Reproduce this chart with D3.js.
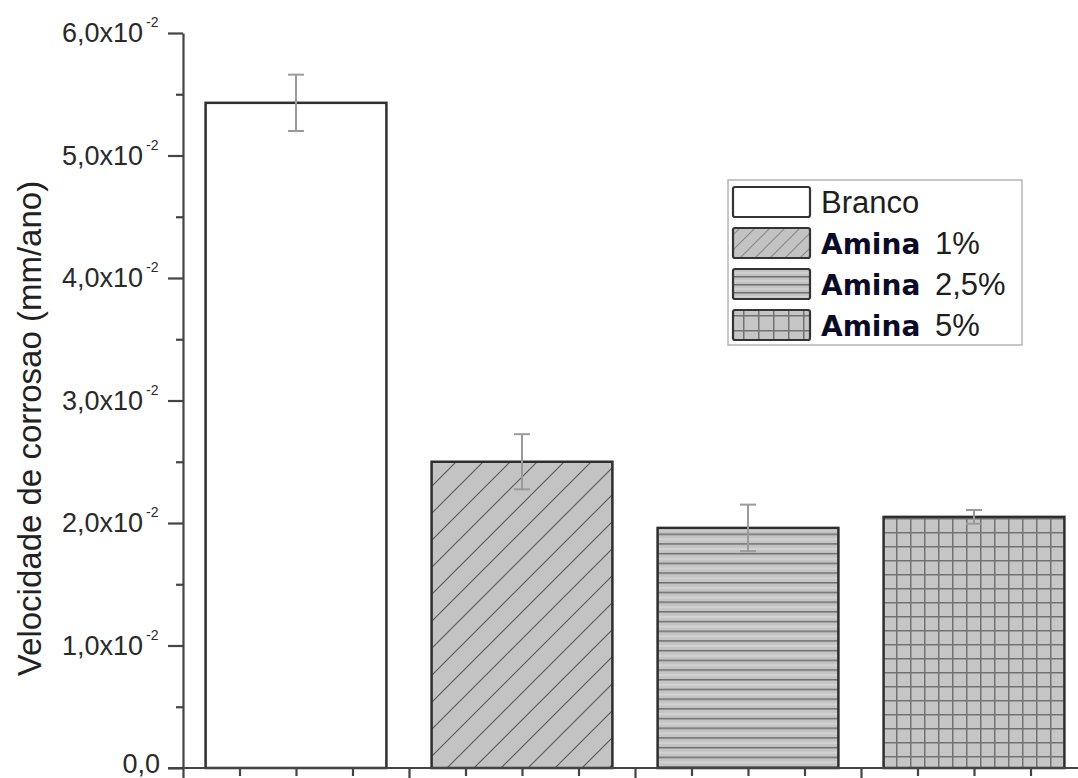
<!DOCTYPE html>
<html>
<head>
<meta charset="utf-8">
<script src="https://cdn.jsdelivr.net/npm/d3@7/dist/d3.min.js"></script>
<style>
  html, body { margin: 0; padding: 0; background: #fff; }
  svg { display: block; }
  text { font-family: "Liberation Sans", Arial, sans-serif; }
</style>
</head>
<body>
<svg id="chart" width="1078" height="778"></svg>
<script>
// Corrosion rate per treatment (mm/ano), with standard deviation
const categories = ["Branco", "Amina 1%", "Amina 2,5%", "Amina 5%"];
const values     = [0.0543, 0.0250, 0.0196, 0.0205];
const errors     = [0.0023, 0.00225, 0.0019, 0.00056];
const fills      = ["white", "diag", "horiz", "grid"];
const legendMain = ["Branco", "Amina", "Amina", "Amina"];
const legendRest = ["", "1%", "2,5%", "5%"];
const yTicks     = [0, 0.01, 0.02, 0.03, 0.04, 0.05, 0.06];
const yTickLabels = ["0,0", "1,0x10", "2,0x10", "3,0x10", "4,0x10", "5,0x10", "6,0x10"];
const yTitle = "Velocidade de corrosao (mm/ano)";

const svg = d3.select("#chart");

const x = d3.scaleLinear().domain([0.5, 4.5]).range([183, 1087]);
const y = d3.scaleLinear().domain([0, 0.06]).range([768, 33]);

// ---- hatch patterns ----
const defs = svg.append("defs");
function diag(id, s, col) {
  const p = defs.append("pattern").attr("id", id).attr("patternUnits", "userSpaceOnUse")
    .attr("width", s).attr("height", s);
  p.append("rect").attr("width", s).attr("height", s).attr("fill", "#c3c3c3");
  p.append("path").attr("d", `M0,${s} L${s},0 M${-s/2},${s/2} L${s/2},${-s/2} M${s/2},${s*1.5} L${s*1.5},${s/2}`)
    .attr("stroke", col).attr("stroke-width", 1.2);
}
function horiz(id, s) {
  const p = defs.append("pattern").attr("id", id).attr("patternUnits", "userSpaceOnUse")
    .attr("width", 10).attr("height", s);
  p.append("rect").attr("width", 10).attr("height", s).attr("fill", "#c4c4c4");
  p.append("rect").attr("y", s * 0.5).attr("width", 10).attr("height", s * 0.2).attr("fill", "#d2d2d2");
  p.append("line").attr("x1", 0).attr("x2", 10).attr("y1", 0.75).attr("y2", 0.75)
    .attr("stroke", "#6e6e6e").attr("stroke-width", 1.5);
}
function grid(id, s) {
  const p = defs.append("pattern").attr("id", id).attr("patternUnits", "userSpaceOnUse")
    .attr("width", s).attr("height", s);
  p.append("rect").attr("width", s).attr("height", s).attr("fill", "#c6c6c6");
  p.append("path").attr("d", `M0.75,0 V${s} M0,0.75 H${s}`)
    .attr("stroke", "#727272").attr("stroke-width", 1.5);
}
diag("diag", 27, "#5c5c5c"); horiz("horiz", 9.7); grid("grid", 14);
diag("diagL", 15, "#8a8a8a"); horiz("horizL", 8); grid("gridL", 15);

const fillOf = (f, legend) => f === "white" ? "white" : `url(#${f}${legend ? "L" : ""})`;

// ---- bars ----
const barW = x(1.4) - x(0.6);
svg.append("g").selectAll("rect").data(values).join("rect")
  .attr("x", (d, i) => x(i + 1) - barW / 2)
  .attr("y", d => y(d))
  .attr("width", barW)
  .attr("height", d => y(0) - y(d))
  .attr("fill", (d, i) => fillOf(fills[i], false))
  .attr("stroke", "#2e2e2e")
  .attr("stroke-width", 2.5);

// ---- error bars ----
const eg = svg.append("g").attr("stroke", "#9a9a9a").attr("stroke-width", 2).attr("fill", "none");
values.forEach((v, i) => {
  const cx = x(i + 1), t = y(v + errors[i]), b = y(v - errors[i]);
  eg.append("line").attr("x1", cx).attr("x2", cx).attr("y1", t).attr("y2", b);
  eg.append("line").attr("x1", cx - 8).attr("x2", cx + 8).attr("y1", t).attr("y2", t);
  eg.append("line").attr("x1", cx - 8).attr("x2", cx + 8).attr("y1", b).attr("y2", b);
});

// ---- y axis ----
const yAxis = svg.append("g").attr("transform", `translate(${x(0.5)},0)`);
yAxis.call(d3.axisLeft(y).tickValues(d3.range(0, 0.0601, 0.005)).tickSize(0).tickFormat(""));
yAxis.select(".domain").attr("stroke", "#444").attr("stroke-width", 2.2);
yAxis.selectAll(".tick line").remove();
yAxis.selectAll(".tick").append("line")
  .attr("x2", (d, i) => i % 2 === 0 ? -15 : -7)
  .attr("stroke", "#444").attr("stroke-width", 2.2);

const yl = svg.append("g");
yTicks.forEach((t, i) => {
  yl.append("text")
    .attr("x", i === 0 ? 160 : 143).attr("y", y(t)).attr("dy", i === 0 ? "0.2em" : "0.35em")
    .attr("text-anchor", "end").attr("font-size", 27).attr("fill", "#2a2a2a")
    .text(yTickLabels[i]);
  if (i > 0) {
    yl.append("text").attr("x", 146).attr("y", y(t) - 6)
      .attr("font-size", 14).attr("fill", "#2a2a2a").text("-2");
  }
});

svg.append("text")
  .attr("transform", `translate(41,${(y(0) + y(0.06)) / 2 + 28}) rotate(-90)`)
  .attr("text-anchor", "middle").attr("font-size", 33).attr("fill", "#222")
  .text(yTitle);

// ---- x axis ----
const xAxis = svg.append("g").attr("transform", `translate(0,${y(0)})`);
xAxis.call(d3.axisBottom(x).tickValues(d3.range(0.5, 4.51, 0.25)).tickSize(0).tickFormat(""));
xAxis.select(".domain").attr("stroke", "#444").attr("stroke-width", 2.2).attr("d", `M${x(0.5) - 15},0H1078`);
xAxis.selectAll(".tick line").remove();
xAxis.selectAll(".tick").append("line")
  .attr("y2", (d, i) => i % 4 === 0 ? 12 : 8)
  .attr("stroke", "#444").attr("stroke-width", 2.2);

// ---- legend ----
const lg = svg.append("g").attr("transform", "translate(728,180)");
lg.append("rect").attr("width", 294).attr("height", 165)
  .attr("fill", "white").attr("stroke", "#b5b5b5").attr("stroke-width", 1.5);
categories.forEach((c, i) => {
  const cy = 22 + i * 41;
  lg.append("rect").attr("x", 5).attr("y", cy - 15).attr("width", 77).attr("height", 30)
    .attr("rx", 2).attr("fill", fillOf(fills[i], true))
    .attr("stroke", "#333").attr("stroke-width", 2.2);
  const t = lg.append("text").attr("x", 93).attr("y", cy).attr("dy", "0.36em")
    .attr("font-size", 31).attr("fill", "#1e1e1e");
  if (legendRest[i]) {
    t.append("tspan").attr("font-family", "DejaVu Sans").attr("font-weight", "bold")
      .attr("font-size", 28).attr("fill", "#0b0b28").text(legendMain[i]);
    t.append("tspan").attr("dx", 6).text(" " + legendRest[i]);
  } else {
    t.text(legendMain[i]);
  }
});
</script>
</body>
</html>
